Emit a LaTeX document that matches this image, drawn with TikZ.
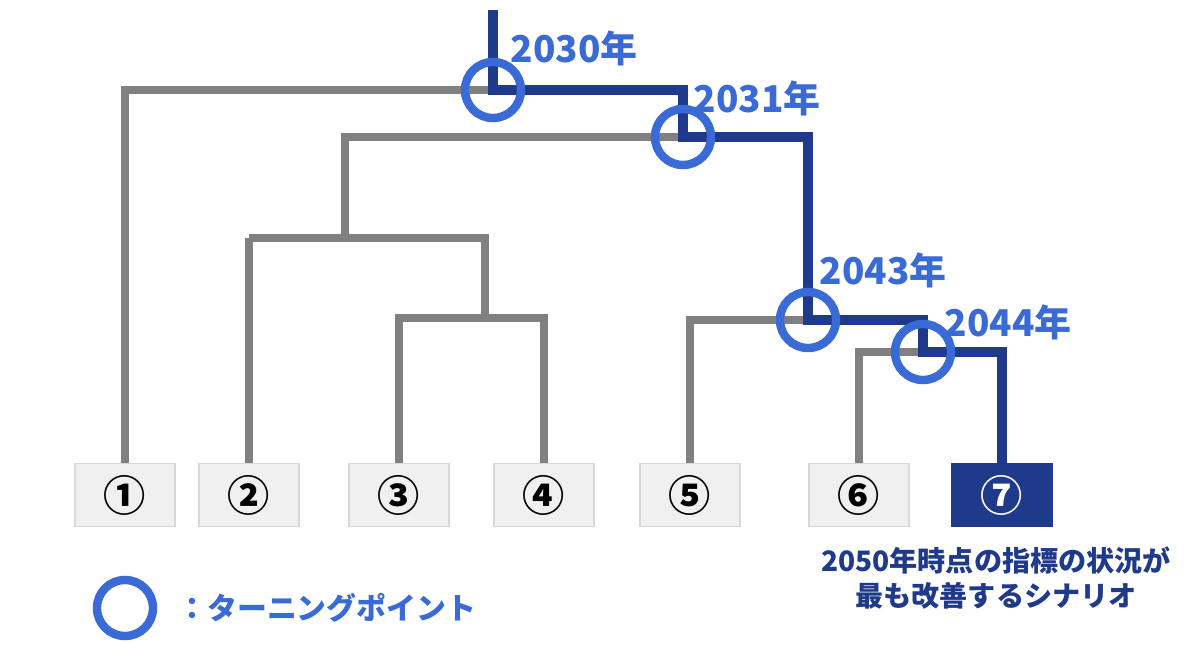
\documentclass[tikz,border=0pt]{standalone}
\usepackage{fontspec}
\setmainfont{Noto Sans CJK JP}
\definecolor{tpblue}{HTML}{3A6AD6}
\definecolor{navy}{HTML}{1F3A8A}
\definecolor{grayline}{HTML}{808080}
\definecolor{boxgray}{HTML}{F0F0F0}
\tikzset{
  leaf/.style={fill=boxgray, draw=boxgray!90!black, minimum width=1cm, minimum height=0.6cm, font=\bfseries\large},
  best/.style={leaf, fill=navy, draw=navy, text=white},
  gline/.style={grayline, line width=2.2pt},
  dline/.style={navy, line width=2.6pt},
  turn/.style={circle, draw=tpblue, line width=2.4pt, minimum size=0.56cm, inner sep=0pt},
  year/.style={tpblue, font=\bfseries\fontsize{10.5}{12}\selectfont}
}
\begin{document}
\begin{tikzpicture}[x=0.01cm, y=-0.01cm]
  \useasboundingbox (0,0) rectangle (1200,655);
  %葉(シナリオ)
  \node[leaf] (s1) at (125,495) {①};
  \node[leaf] (s2) at (249,495) {②};
  \node[leaf] (s3) at (399,495) {③};
  \node[leaf] (s4) at (544,495) {④};
  \node[leaf] (s5) at (690,495) {⑤};
  \node[leaf] (s6) at (859,495) {⑥};
  \node[best] (s7) at (1002,495) {⑦};
  %分岐点
  \coordinate (top) at (493,10);
  \coordinate (t1) at (493,90);
  \coordinate (t2) at (683,137);
  \coordinate (t3) at (808,320);
  \coordinate (t4) at (923,352);
  \coordinate (m1) at (345,238);
  \coordinate (m2) at (485,318);
  %灰色の枝
  \draw[gline] (t1) -| (s1.north);
  \draw[gline] (t2) -| (m1);
  \draw[gline] (m1 -| s2.north) -- (m1 -| m2) -- (m2);
  \draw[gline] (m1 -| s2.north) -- (s2.north);
  \draw[gline] (s3.north) |- (m2 -| s4.north) -- (s4.north);
  \draw[gline] (t3) -| (s5.north);
  \draw[gline] (t4) -| (s6.north);
  %最良の経路
  \draw[dline] (top) -- (t1) -| (t2) -| (t3) -| (t4) -| (s7.north);
  %ターニングポイント
  \node[turn] (c1) at (t1) {};
  \node[turn] (c2) at (t2) {};
  \node[turn] (c3) at (t3) {};
  \node[turn] (c4) at (t4) {};
  \node[year] (y1) at (574,48) {2030年};
  \node[year] (y2) at (757,98) {2031年};
  \node[year] (y3) at (883,270) {2043年};
  \node[year] (y4) at (1008,322) {2044年};
  %説明
  \node[navy, font=\bfseries\fontsize{8}{10}\selectfont, align=center] (cap) at (996,578) {2050年時点の指標の状況が\\最も改善するシナリオ};
  \node[turn] (lc) at (125,608) {};
  \node[tpblue, font=\bfseries\fontsize{8.5}{10}\selectfont, anchor=west] (lt) at (165,608) {：ターニングポイント};
\end{tikzpicture}
\end{document}
